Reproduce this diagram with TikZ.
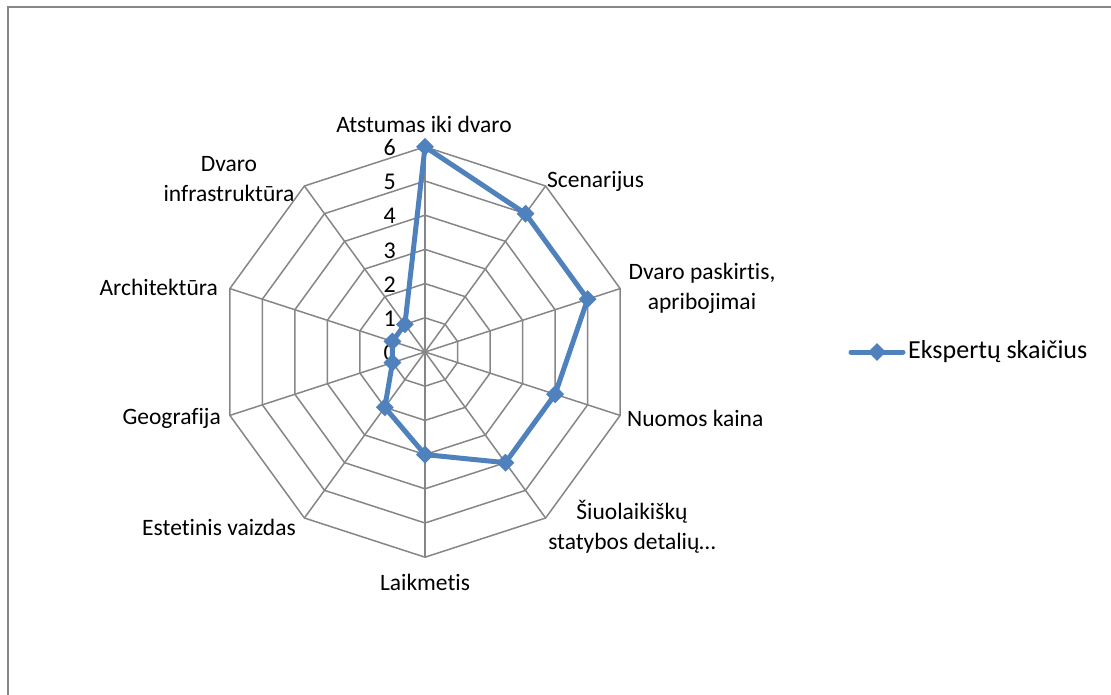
\documentclass[tikz,border=0pt]{standalone}
\usepackage{fontspec}
\setmainfont{Carlito}[Ligatures=NoCommon]
\usetikzlibrary{shapes.geometric}
\definecolor{gridgray}{HTML}{868686}
\definecolor{series}{HTML}{4F81BD}
\begin{document}
\begin{tikzpicture}[x=1pt,y=-1pt,
  grid/.style={draw=gridgray,line width=1.5pt},
  ser/.style={draw=series,line width=5pt,line join=round},
  mk/.style={diamond,aspect=1,fill=series,inner sep=0pt,minimum width=18pt,minimum height=18pt},
  lab/.style={font=\fontsize{23.5}{30}\selectfont,align=center,inner sep=0pt},
  tick/.style={font=\fontsize{24}{28}\selectfont,anchor=east,inner sep=0pt},
  leg/.style={font=\fontsize{26}{30}\selectfont,anchor=west,inner sep=0pt}]
\useasboundingbox (0,0) rectangle (1111,695);
\draw[gridgray,line width=2pt] (1111,7) -- (7.5,7) -- (7.5,695);
\def\U{34.2}
% grid rings
\foreach \v in {1,...,6}{
  \draw[grid] ({425},{352-\v*\U})
    \foreach \k in {1,...,9}{ -- ({425+\v*\U*sin(36*\k)},{352-\v*\U*cos(36*\k)}) } -- cycle;
}
% spokes
\foreach \k in {0,...,9}{
  \coordinate (s\k) at ({425+6*\U*sin(36*\k)},{352-6*\U*cos(36*\k)});
  \draw[grid] (425,352) -- (s\k);
}
% tick labels
\foreach \v in {0,...,6}{
  \node[tick] (t\v) at (396,{353-\v*\U}) {\v};
}
% data
\foreach \v [count=\k from 0] in {6,5,5,4,4,3,2,1,1,1}{
  \coordinate (p\k) at ({425+\v*\U*sin(36*\k)},{352-\v*\U*cos(36*\k)});
}
\draw[ser] (p0) -- (p1) -- (p2) -- (p3) -- (p4) -- (p5) -- (p6) -- (p7) -- (p8) -- (p9) -- cycle;
\foreach \k in {0,...,9}{
  \node[mk] (m\k) at (p\k) {};
}
% category labels
\node[lab] (c0) at (424,124) {Atstumas iki dvaro};
\node[lab,anchor=west] (c1) at (547,181) {Scenarijus};
\node[lab] (c2) at (702,288) {Dvaro paskirtis,\\ apribojimai};
\node[lab,anchor=west] (c3) at (627,418) {Nuomos kaina};
\node[lab] (c4) at (632,527) {Šiuolaikiškų\\ statybos detalių…};
\node[lab] (c5) at (425,582) {Laikmetis};
\node[lab,anchor=east] (c6) at (296,527) {Estetinis vaizdas};
\node[lab,anchor=east] (c7) at (221,418) {Geografija};
\node[lab,anchor=east] (c8) at (218,287) {Architektūra};
\node[lab] (c9) at (229,179) {Dvaro\\ infrastruktūra};
% legend
\coordinate (la) at (851,352);
\coordinate (lb) at (903,352);
\draw[ser,line cap=round] (la) -- (lb);
\node[mk] (lm) at (877,352) {};
\node[leg] (lt) at (908,352) {Ekspertų skaičius};
\end{tikzpicture}
\end{document}
